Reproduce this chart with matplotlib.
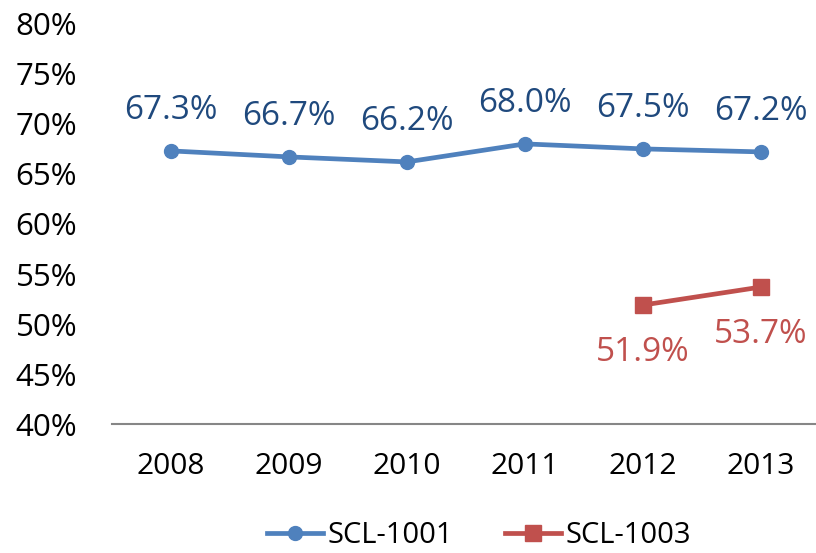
import numpy as np
import matplotlib
matplotlib.use('Agg')
import matplotlib.pyplot as plt

# data
years = ['2008', '2009', '2010', '2011', '2012', '2013']
scl1001 = [67.3, 66.7, 66.2, 68.0, 67.5, 67.2]
scl1003 = [None, None, None, None, 51.9, 53.7]
yticks = [40, 45, 50, 55, 60, 65, 70, 75, 80]

plt.rcParams['font.family'] = ['Open Sans', 'DejaVu Sans']

fig = plt.figure(figsize=(8.16, 5.53), dpi=100)
ax = fig.add_axes([0.137, 0.233, 0.868, 0.724])

x = np.arange(len(years))
y2 = np.array([np.nan if v is None else v for v in scl1003], dtype=float)

ax.plot(x, scl1001, color='#4F81BD', lw=3.4, marker='o', ms=10, label='SCL-1001')
ax.plot(x, y2, color='#C0504D', lw=3.4, marker='s', ms=11, label='SCL-1003')

# data labels
for i, v in enumerate(scl1001):
    ax.annotate('%.1f%%' % v, (x[i], v), xytext=(0, 29), textcoords='offset points',
                ha='center', va='center', fontsize=24, color='#1F497D')
for i, v in enumerate(scl1003):
    if v is None:
        continue
    ax.annotate('%.1f%%' % v, (x[i], v), xytext=(0, -34), textcoords='offset points',
                ha='center', va='center', fontsize=24, color='#C0504D')

ax.set_xlim(-0.5, len(years) - 0.5)
ax.set_ylim(40, 80)
ax.set_yticks(yticks)
ax.set_yticklabels(['%d%%' % t for t in yticks])
ax.set_xticks(x)
ax.set_xticklabels(years)
ax.tick_params(axis='y', length=0, labelsize=22.5, pad=25)
ax.tick_params(axis='x', length=0, labelsize=21.5, pad=20)

for s in ['top', 'right', 'left']:
    ax.spines[s].set_visible(False)
ax.spines['bottom'].set_color('#868686')
ax.spines['bottom'].set_linewidth(1.5)

fig.legend(loc='lower center', bbox_to_anchor=(0.587, -0.042), ncol=2, frameon=False,
           fontsize=21, handlelength=1.9, handletextpad=0.15, columnspacing=1.8)

fig.savefig('out.png', dpi=100)
